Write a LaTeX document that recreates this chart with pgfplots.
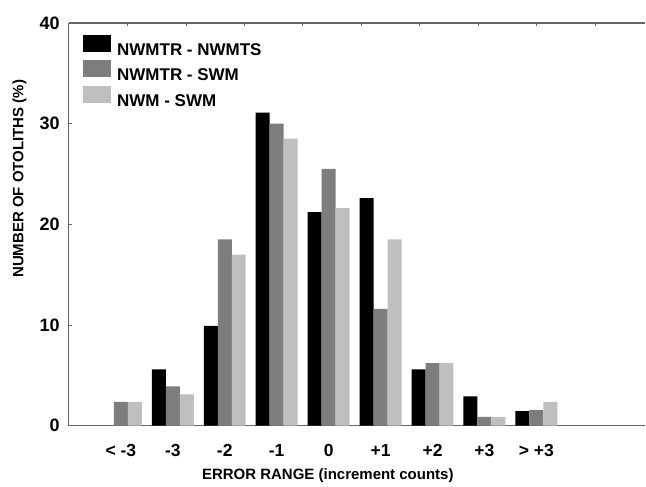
\documentclass[border=0pt]{standalone}
\usepackage{pgfplots}
\pgfplotsset{compat=1.18}
\usepackage{fontspec}
\setmainfont{Liberation Sans}

\definecolor{barblack}{gray}{0.0}
\definecolor{bargray}{gray}{0.49}
\definecolor{barlight}{gray}{0.75}
\definecolor{frame}{gray}{0.40}

\begin{document}
\begin{tikzpicture}
  \begin{axis}[
      name=main,
      width=577pt, height=403pt, scale only axis,
      xmin=-1, xmax=10.1, ymin=0, ymax=40,
      axis x line*=bottom, axis y line*=left,
      axis line style={-, draw=frame, line width=1.1pt},
      xtick={0,...,8},
      xticklabels={{< -3},-3,-2,-1,0,+1,+2,+3,{> +3}},
      x tick style={draw=none},
      ytick={0,10,20,30,40},
      y tick style={draw=frame, line width=0.8pt},
      tick align=inside, major tick length=3.5pt,
      /pgf/number format/assume math mode=true,
      x tick label style={font=\fontsize{17.5}{20}\selectfont\bfseries, anchor=base, yshift=-27pt, inner sep=0pt},
      y tick label style={font=\fontsize{18}{20}\selectfont\bfseries, anchor=east, xshift=-9pt, inner sep=0pt},
      every axis y label/.style={at={(rel axis cs:-0.0792,0.613)}, rotate=90, anchor=base},
      every axis x label/.style={at={(rel axis cs:0.449,-0.134)}, anchor=base},
      label style={font=\fontsize{15}{18}\selectfont\bfseries},
      xlabel={ERROR RANGE (increment counts)},
      ylabel={NUMBER OF OTOLITHS (\%)},
      ybar=0pt, bar width=14pt,
      legend image code/.code={\fill[#1] (0pt,-1.7pt) rectangle (28pt,15pt);},
      legend style={draw=none, fill=none, at={(rel axis cs:0,1)}, anchor=north west,
        xshift=14.3pt, yshift=-12pt, inner sep=0pt, outer sep=0pt, row sep=3.8pt,
        font=\fontsize{17}{20}\selectfont\bfseries,
        nodes={inner sep=0pt}, column sep=6pt},
      legend cell align=left,
      clip=false,
    ]
    % NWMTR - NWMTS (no bar for < -3)
    \addplot[fill=barblack, draw=none] coordinates {
      (1,5.6) (2,9.9) (3,31.1) (4,21.2) (5,22.6) (6,5.6) (7,2.9) (8,1.45)
    };
    % NWMTR - SWM
    \addplot[fill=bargray, draw=none] coordinates {
      (0,2.35) (1,3.9) (2,18.5) (3,30.0) (4,25.5) (5,11.6) (6,6.2) (7,0.86) (8,1.55)
    };
    % NWM - SWM
    \addplot[fill=barlight, draw=none] coordinates {
      (0,2.35) (1,3.1) (2,17.0) (3,28.5) (4,21.6) (5,18.5) (6,6.2) (7,0.86) (8,2.35)
    };
    \legend{NWMTR - NWMTS, NWMTR - SWM, NWM - SWM}
  \end{axis}
  % top frame line with its own ticks
  \begin{axis}[
      at={(main.south west)}, anchor=south west,
      width=577pt, height=403pt, scale only axis,
      xmin=-1, xmax=10.1, ymin=0, ymax=40,
      axis x line*=top, axis y line=none,
      axis line style={-, draw=frame, line width=1.1pt},
      xtick={0.128,1.254,2.379,3.504,4.629,5.754,6.879,8.004,9.129},
      xticklabels={},
      x tick style={draw=frame, line width=0.8pt},
      tick align=inside, major tick length=3.5pt,
    ]
    \addplot[draw=none] coordinates {(0,0)};
  \end{axis}
  \path ([shift={(-69pt,-58pt)}]main.south west) rectangle ([shift={(0pt,23pt)}]main.north east);
\end{tikzpicture}
\end{document}
